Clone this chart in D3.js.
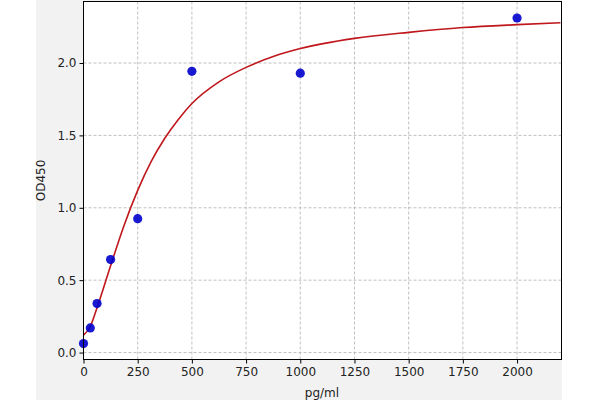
<!DOCTYPE html>
<html>
<head>
<meta charset="utf-8">
<script src="https://cdn.jsdelivr.net/npm/d3@7"></script>
<style>
  body { margin: 0; background: #ffffff; }
  svg { display: block; font-family: "DejaVu Sans", sans-serif; }
</style>
</head>
<body>
<div id="chart"></div>
<script>
// standard points (pg/ml -> OD450)
const conc = [0, 31.25, 62.5, 125, 250, 500, 1000, 2000];
const od = [0.062, 0.17, 0.338, 0.642, 0.925, 1.943, 1.93, 2.311];

// fitted curve
const fitX = [0, 31.25, 62.5, 125, 187.5, 250, 312.5, 375, 437.5, 500, 625, 750, 875, 1000, 1250, 1500, 1750, 2000, 2200];
const fitY = [0.12, 0.18, 0.31, 0.6, 0.88, 1.12, 1.32, 1.48, 1.61, 1.72, 1.87, 1.97, 2.045, 2.1, 2.17, 2.212, 2.245, 2.265, 2.278];

const xTicks = [0, 250, 500, 750, 1000, 1250, 1500, 1750, 2000];
const yTicks = [0, 0.5, 1.0, 1.5, 2.0];

const width = 600, height = 400;
const pLeft = 83.5, pRight = 561.5, pTop = 1.5, pBottom = 359.5;

const svg = d3.select('#chart').append('svg')
  .attr('width', width)
  .attr('height', height);

// figure background (cropped)
svg.append('rect')
  .attr('x', 36).attr('y', 0)
  .attr('width', 526).attr('height', height)
  .attr('fill', '#f2f2f2');

svg.append('rect')
  .attr('x', pLeft).attr('y', pTop)
  .attr('width', pRight - pLeft).attr('height', pBottom - pTop)
  .attr('fill', '#ffffff');

const x = d3.scaleLinear().domain([0, 2205]).range([pLeft, pRight]);
const y = d3.scaleLinear().domain([-0.048, 2.425]).range([pBottom, pTop]);

// grid
const grid = svg.append('g');
grid.selectAll('.vg').data(xTicks).enter().append('line')
  .attr('x1', d => x(d)).attr('x2', d => x(d))
  .attr('y1', pTop).attr('y2', pBottom)
  .attr('stroke', '#b0b0b0').attr('stroke-width', 0.8)
  .attr('stroke-dasharray', '3,2');
grid.selectAll('.hg').data(yTicks).enter().append('line')
  .attr('x1', pLeft).attr('x2', pRight)
  .attr('y1', d => y(d)).attr('y2', d => y(d))
  .attr('stroke', '#b0b0b0').attr('stroke-width', 0.8)
  .attr('stroke-dasharray', '3,2');

// fit curve
const fit = fitX.map((v, i) => [v, fitY[i]]);
const line = d3.line()
  .x(d => x(d[0]))
  .y(d => y(d[1]))
  .curve(d3.curveMonotoneX);
svg.append('path')
  .datum(fit)
  .attr('d', line)
  .attr('fill', 'none')
  .attr('stroke', '#c0171c')
  .attr('stroke-width', 1.6);

// points
svg.selectAll('.pt').data(conc).enter().append('circle')
  .attr('cx', d => x(d))
  .attr('cy', (d, i) => y(od[i]))
  .attr('r', 4.6)
  .attr('fill', '#0000cc')
  .attr('fill-opacity', 0.9);

// frame
svg.append('rect')
  .attr('x', pLeft).attr('y', pTop)
  .attr('width', pRight - pLeft).attr('height', pBottom - pTop)
  .attr('fill', 'none')
  .attr('stroke', '#000000')
  .attr('stroke-width', 1);

// axes
const xAxis = svg.append('g')
  .attr('transform', `translate(0,${pBottom})`)
  .call(d3.axisBottom(x).tickValues(xTicks).tickSize(4).tickPadding(4).tickFormat(d3.format('d')));
const yAxis = svg.append('g')
  .attr('transform', `translate(${pLeft},0)`)
  .call(d3.axisLeft(y).tickValues(yTicks).tickSize(4).tickPadding(3).tickFormat(d3.format('.1f')));

[xAxis, yAxis].forEach(a => {
  a.select('.domain').remove();
  a.selectAll('text')
    .attr('fill', '#222')
    .style('font-family', '"DejaVu Sans", sans-serif')
    .style('font-size', '12px');
});

svg.append('text')
  .attr('x', (pLeft + pRight) / 2 - 0.5)
  .attr('y', 397)
  .attr('text-anchor', 'middle')
  .attr('fill', '#222')
  .style('font-size', '12px')
  .text('pg/ml');

svg.append('text')
  .attr('transform', `translate(45,${(pTop + pBottom) / 2}) rotate(-90)`)
  .attr('text-anchor', 'middle')
  .attr('fill', '#222')
  .style('font-size', '12px')
  .text('OD450');
</script>
</body>
</html>
